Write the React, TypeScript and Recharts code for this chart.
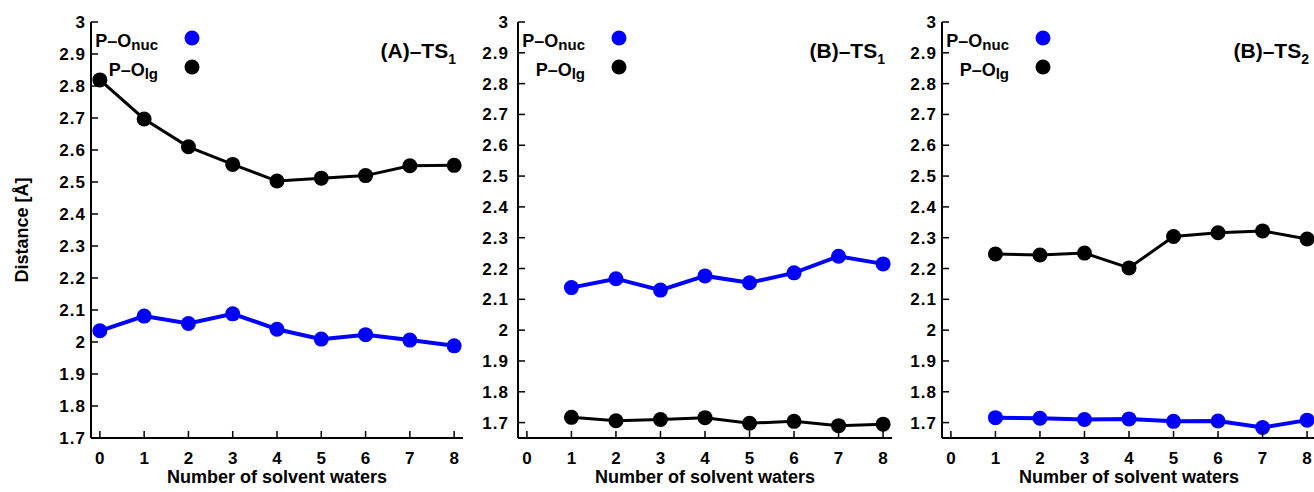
import { LineChart, Line, XAxis, YAxis, Legend, Customized } from 'recharts';

const FONT = '"Liberation Sans", Arial, Helvetica, sans-serif';
const BLUE = '#0000ff';
const BLACK = '#000000';

// x axis: number of explicit solvent waters
const waters = [0, 1, 2, 3, 4, 5, 6, 7, 8];
const xTicks = [0, 1, 2, 3, 4, 5, 6, 7, 8];
const yTicks = [1.7, 1.8, 1.9, 2, 2.1, 2.2, 2.3, 2.4, 2.5, 2.6, 2.7, 2.8, 2.9, 3];

// P–O distances in Å (null = no structure at that count)
const aNuc = [2.035, 2.081, 2.058, 2.088, 2.04, 2.009, 2.023, 2.006, 1.988];
const aLg = [2.819, 2.697, 2.61, 2.555, 2.503, 2.512, 2.52, 2.551, 2.552];
const b1Nuc = [null, 2.138, 2.167, 2.13, 2.176, 2.154, 2.186, 2.24, 2.215];
const b1Lg = [null, 1.717, 1.706, 1.71, 1.716, 1.698, 1.704, 1.69, 1.695];
const b2Nuc = [null, 1.716, 1.714, 1.71, 1.712, 1.704, 1.705, 1.684, 1.708];
const b2Lg = [null, 2.247, 2.244, 2.25, 2.202, 2.304, 2.316, 2.322, 2.296];

// legend rows, top to bottom
const seriesOrder = ['nuc', 'lg'];
const subLabel: Record<string, string> = { nuc: 'nuc', lg: 'lg' };

type Panel = {
  key: string;
  title: string;
  sub: string;
  nuc: (number | null)[];
  lg: (number | null)[];
  yMin: number;
  left: number;
  width: number;
  axisW: number;
  marginRight: number;
  tickGap: number;
  yLabel?: boolean;
};

const panels: Panel[] = [
  { key: 'a', title: '(A)–TS', sub: '1', nuc: aNuc, lg: aLg, yMin: 1.7, left: 0, width: 470, axisW: 91, marginRight: 7, tickGap: 5, yLabel: true },
  { key: 'b1', title: '(B)–TS', sub: '1', nuc: b1Nuc, lg: b1Lg, yMin: 1.65, left: 470, width: 430, axisW: 48, marginRight: 8, tickGap: 9 },
  { key: 'b2', title: '(B)–TS', sub: '2', nuc: b2Nuc, lg: b2Lg, yMin: 1.65, left: 900, width: 420, axisW: 42, marginRight: 4, tickGap: 5 },
];

const HEIGHT = 492;
const TOP = 22;
const XAXIS_H = 54;
const TICK = 7;

const fmt = (v: number) => String(Math.round(v * 10) / 10);

function BottomTick(props: any) {
  const { x, y, payload } = props;
  return (
    <g>
      <line x1={x} x2={x} y1={y} y2={y - TICK} stroke={BLACK} strokeWidth={1.5} />
      <text x={x} y={y + 26} textAnchor="middle" fontSize={17} fontWeight="bold" fill={BLACK}>
        {payload.value}
      </text>
    </g>
  );
}

function TopTick(props: any) {
  const { x, y } = props;
  return <line x1={x} x2={x} y1={y} y2={y + TICK} stroke={BLACK} strokeWidth={1.5} />;
}

function LeftTick(props: any) {
  const { x, y, payload, gap } = props;
  return (
    <g>
      <line x1={x} x2={x + TICK} y1={y} y2={y} stroke={BLACK} strokeWidth={1.5} />
      <text x={x - gap} y={y + 6} textAnchor="end" fontSize={17} fontWeight="bold" fill={BLACK} letterSpacing={1}>
        {fmt(payload.value)}
      </text>
    </g>
  );
}

function RightTick(props: any) {
  const { x, y } = props;
  return <line x1={x} x2={x - TICK} y1={y} y2={y} stroke={BLACK} strokeWidth={1.5} />;
}

function LegendBox(props: any) {
  const payload = [...(props.payload ?? [])].sort(
    (a: any, b: any) => seriesOrder.indexOf(String(a.dataKey)) - seriesOrder.indexOf(String(b.dataKey)),
  );
  return (
    <svg width={130} height={60} style={{ display: 'block', overflow: 'visible', fontFamily: FONT }}>
      {payload.map((entry: any, i: number) => (
        <g key={String(entry.dataKey)}>
          <text x={67} y={25 + i * 29} textAnchor="end" fontSize={18} fontWeight="bold" fill={BLACK}>
            P–O<tspan fontSize={15} dy={3}>{subLabel[String(entry.dataKey)]}</tspan>
          </text>
          <circle cx={101} cy={16 + i * 29} r={7.5} fill={entry.color} />
        </g>
      ))}
    </svg>
  );
}

function PanelTitle({ x, title, sub }: { x: number; title: string; sub: string }) {
  return (
    <text x={x} y={58} textAnchor="end" fontSize={21} fontWeight="bold" fill={BLACK} fontFamily={FONT}>
      {title}
      <tspan fontSize={14} dy={6}>{sub}</tspan>
    </text>
  );
}

function DistancePanel({ p }: { p: Panel }) {
  const rows = waters
    .map((w, i) => ({ w, nuc: p.nuc[i], lg: p.lg[i] }))
    .filter((r) => r.nuc != null && r.lg != null);
  const plotRight = p.width - p.marginRight;
  const axisLine = { stroke: BLACK, strokeWidth: 2 };

  return (
    <div style={{ position: 'absolute', left: p.left, top: 0, width: p.width, height: HEIGHT, fontFamily: FONT }}>
      <LineChart width={p.width} height={HEIGHT} data={rows} margin={{ top: TOP, right: p.marginRight, bottom: 0, left: 0 }}>
        <XAxis
          dataKey="w"
          type="number"
          domain={[-0.2, 8.2]}
          ticks={xTicks}
          interval={0}
          height={XAXIS_H}
          tickSize={0}
          tickMargin={0}
          tickLine={false}
          axisLine={axisLine}
          tick={<BottomTick />}
          label={{
            content: (lp: any) => {
              const vb = lp.viewBox;
              return (
                <text x={vb.x + vb.width / 2} y={vb.y + 45} textAnchor="middle" fontSize={18} fontWeight="bold" fill={BLACK}>
                  Number of solvent waters
                </text>
              );
            },
          }}
        />
        <XAxis
          xAxisId="top"
          orientation="top"
          dataKey="w"
          type="number"
          domain={[-0.2, 8.2]}
          ticks={xTicks}
          interval={0}
          height={0}
          tickSize={0}
          tickMargin={0}
          tickLine={false}
          axisLine={axisLine}
          tick={<TopTick />}
        />
        <YAxis
          type="number"
          domain={[p.yMin, 3]}
          ticks={yTicks}
          interval={0}
          width={p.axisW}
          tickSize={0}
          tickMargin={0}
          tickLine={false}
          axisLine={axisLine}
          tick={<LeftTick gap={p.tickGap} />}
          label={
            p.yLabel
              ? {
                  content: (lp: any) => {
                    const vb = lp.viewBox;
                    const cy = vb.y + vb.height / 2;
                    return (
                      <text x={28} y={cy} transform={`rotate(-90 28 ${cy})`} textAnchor="middle" fontSize={18} fontWeight="bold" fill={BLACK}>
                        Distance [Å]
                      </text>
                    );
                  },
                }
              : undefined
          }
        />
        <YAxis
          yAxisId="right"
          orientation="right"
          type="number"
          domain={[p.yMin, 3]}
          ticks={yTicks}
          interval={0}
          width={0}
          tickSize={0}
          tickMargin={0}
          tickLine={false}
          axisLine={axisLine}
          tick={<RightTick />}
        />
        <Legend
          layout="vertical"
          align="center"
          verticalAlign="middle"
          content={<LegendBox />}
          wrapperStyle={{ position: 'absolute', left: p.axisW, top: TOP, width: 130, height: 60 }}
        />
        <Line
          dataKey="nuc"
          name="P–O nuc"
          type="linear"
          stroke={BLUE}
          strokeWidth={4}
          dot={{ r: 7.5, fill: BLUE, stroke: BLUE, strokeWidth: 0 }}
          activeDot={false}
          isAnimationActive={false}
        />
        <Line
          dataKey="lg"
          name="P–O lg"
          type="linear"
          stroke={BLACK}
          strokeWidth={3}
          dot={{ r: 7.5, fill: BLACK, stroke: BLACK, strokeWidth: 0 }}
          activeDot={false}
          isAnimationActive={false}
        />
        <Customized component={<PanelTitle x={plotRight - 7} title={p.title} sub={p.sub} />} />
      </LineChart>
    </div>
  );
}

export default function App() {
  return (
    <div style={{ position: 'absolute', left: 0, top: 0, width: 1314, height: HEIGHT, overflow: 'hidden', background: '#fff' }}>
      {panels.map((p) => (
        <DistancePanel key={p.key} p={p} />
      ))}
    </div>
  );
}
